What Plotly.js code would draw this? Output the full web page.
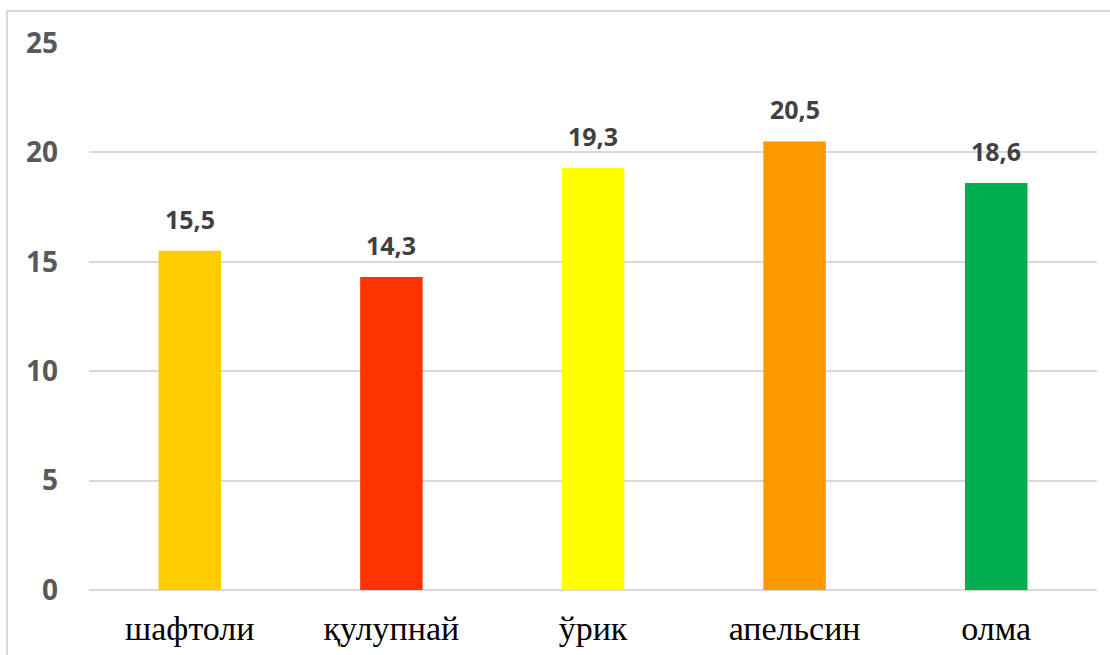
<!DOCTYPE html>
<html><head><meta charset="utf-8">
<script src="https://cdn.plot.ly/plotly-3.0.1.min.js"></script>
<style>
html,body{margin:0;padding:0;background:#fff;}
#wrap{position:relative;width:1110px;height:655px;overflow:hidden;}
#chart{position:absolute;left:0;top:0;width:1110px;height:655px;}
#frame{position:absolute;left:6px;top:10px;width:1120px;height:700px;border:2px solid #d9d9d9;pointer-events:none;}
</style></head>
<body><div id="wrap"><div id="chart"></div><div id="frame"></div></div>
<script>
const categories = ["шафтоли", "қулупнай", "ўрик", "апельсин", "олма"];
const values = [15.5, 14.3, 19.3, 20.5, 18.6];
const valueLabels = ["15,5", "14,3", "19,3", "20,5", "18,6"];
const barColors = ["#FFCC00", "#FF3300", "#FFFF00", "#FF9900", "#00B050"];
const yTicks = [0, 5, 10, 15, 20, 25];

const trace = {
  type: "bar",
  x: categories,
  y: values,
  marker: {color: barColors},
  width: 0.31,
  hoverinfo: "none"
};

const annotations = categories.map((c, i) => ({
  x: c, y: values[i], xref: "x", yref: "y",
  text: "<b>" + valueLabels[i] + "</b>",
  showarrow: false, yanchor: "bottom", yshift: 13,
  font: {family: "Open Sans, sans-serif", size: 25, color: "#404040"}
}));

const layout = {
  width: 1110, height: 655,
  margin: {l: 89, r: 13, t: 43, b: 65},
  paper_bgcolor: "#ffffff", plot_bgcolor: "#ffffff",
  showlegend: false,
  bargap: 0.69,
  xaxis: {
    type: "category",
    showgrid: false, showline: false, zeroline: false,
    ticks: "", ticklabelstandoff: 15,
    tickfont: {family: "Liberation Serif, Times New Roman, serif", size: 34, color: "#000000"}
  },
  yaxis: {
    range: [0, 25], tickvals: yTicks, ticktext: yTicks.map(String),
    showgrid: true, gridcolor: "#d9d9d9", gridwidth: 2,
    zeroline: true, zerolinecolor: "#d9d9d9", zerolinewidth: 2,
    showline: false, ticks: "", ticklabelstandoff: 30,
    tickfont: {family: "Open Sans, sans-serif", size: 28, color: "#595959", weight: "bold"}
  },
  annotations: annotations
};

Plotly.newPlot("chart", [trace], layout, {staticPlot: true});
</script></body></html>
